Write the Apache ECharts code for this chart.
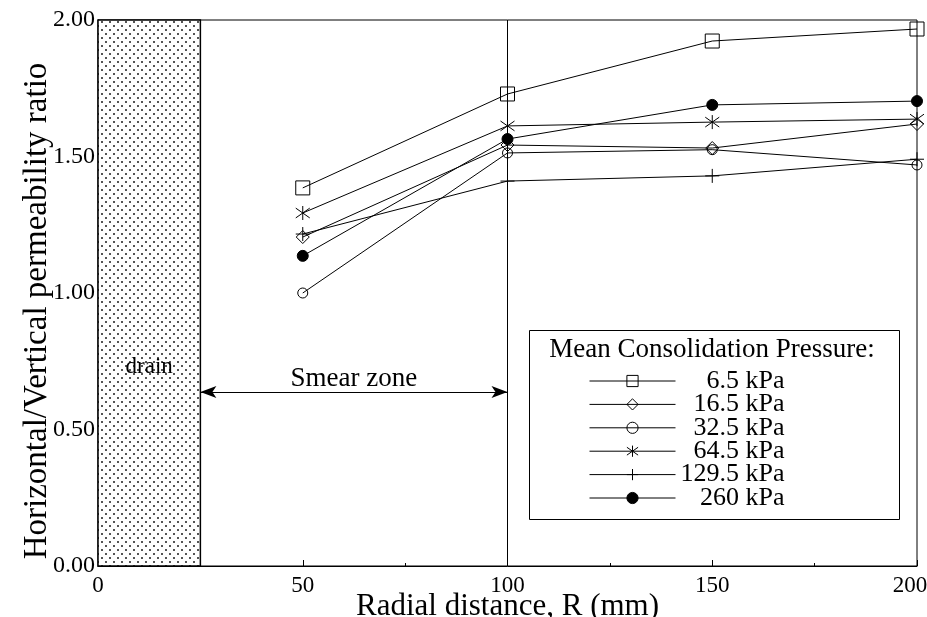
<!DOCTYPE html>
<html>
<head>
<meta charset="utf-8">
<script src="https://cdn.jsdelivr.net/npm/echarts@6/dist/echarts.min.js"></script>
<style>
  html, body { margin: 0; padding: 0; background: #fff; }
  #main { width: 927px; height: 617px; }
</style>
</head>
<body>
<div id="main"></div>
<script>
// radial distance (mm) of the sampling points
var radius = [50, 100, 150, 200];

// kh/kv ratio for each mean consolidation pressure
var kPa6_5 = [1.385, 1.729, 1.923, 1.967];
var kPa16_5 = [1.205, 1.542, 1.531, 1.619];
var kPa32_5 = [1.0, 1.513, 1.525, 1.469];
var kPa64_5 = [1.293, 1.612, 1.626, 1.637];
var kPa129_5 = [1.216, 1.41, 1.429, 1.49];
var kPa260 = [1.136, 1.564, 1.689, 1.703];

var seriesNames = ['6.5 kPa', '16.5 kPa', '32.5 kPa', '64.5 kPa', '129.5 kPa', '260 kPa'];

// drain zone and smear zone limits (mm)
var drainEdge = 25;
var smearEdge = 100;
var smearArrowY = 0.637;
var drainLabelY = 0.73;

var xTicks = [0, 50, 100, 150, 200];
var yTicks = [0, 0.5, 1.0, 1.5, 2.0];

var serif = '"Liberation Serif", "DejaVu Serif", serif';

// dotted fill for the drain
var dots = document.createElement('canvas');
dots.width = 8;
dots.height = 8;
var dctx = dots.getContext('2d');
dctx.fillStyle = '#fff';
dctx.fillRect(0, 0, 8, 8);
dctx.fillStyle = '#555';
dctx.fillRect(1, 1, 2, 2);
dctx.fillRect(5, 5, 2, 2);

function pairs(ys) {
  return radius.map(function (r, i) { return [r, ys[i]]; });
}

var hollow = { color: 'rgba(0,0,0,0)', borderColor: '#000', borderWidth: 1 };
var filled = { color: '#000', borderColor: '#000', borderWidth: 1 };

var starPath = 'path://M5,0L5,10M1.5,1.5L8.5,8.5M8.5,1.5L1.5,8.5';
var plusPath = 'path://M0,5L10,5M5,0L5,10';

function mkSeries(name, ys, symbol, size, style) {
  return {
    name: name,
    type: 'line',
    data: pairs(ys),
    symbol: symbol,
    symbolSize: size,
    showAllSymbol: true,
    color: '#000',
    lineStyle: { color: '#000', width: 1 },
    itemStyle: style,
    emphasis: { disabled: true },
    z: 3
  };
}

var myChart = echarts.init(document.getElementById('main'));

var series = [
  mkSeries(seriesNames[0], kPa6_5, 'rect', 14, hollow),
  mkSeries(seriesNames[1], kPa16_5, 'diamond', 13, hollow),
  mkSeries(seriesNames[2], kPa32_5, 'circle', 10, hollow),
  mkSeries(seriesNames[3], kPa64_5, starPath, 14, hollow),
  mkSeries(seriesNames[4], kPa129_5, plusPath, 14, hollow),
  mkSeries(seriesNames[5], kPa260, 'circle', 11, filled)
];

// drain, smear zone arrow and the r = 100 line
series.push({
  name: 'zones',
  type: 'line',
  data: [],
  silent: true,
  markArea: {
    silent: true,
    itemStyle: {
      color: { image: dots, repeat: 'repeat' },
      borderColor: '#000',
      borderWidth: 1.5
    },
    label: { show: false },
    data: [[{ xAxis: 0, yAxis: 0 }, { xAxis: drainEdge, yAxis: 2 }]]
  },
  markPoint: {
    silent: true,
    symbol: 'circle',
    symbolSize: 0,
    label: {
      show: true,
      formatter: 'drain',
      fontFamily: serif,
      fontSize: 23,
      color: '#000'
    },
    data: [{ coord: [drainEdge / 2, drainLabelY] }]
  },
  markLine: {
    silent: true,
    animation: false,
    data: [
      [
        { coord: [drainEdge, smearArrowY], symbol: 'arrow', symbolSize: [9, 16] },
        { coord: [smearEdge, smearArrowY], symbol: 'arrow', symbolSize: [9, 16] }
      ],
      [
        { coord: [smearEdge, 0], symbol: 'none' },
        { coord: [smearEdge, 2], symbol: 'none' }
      ]
    ],
    lineStyle: { color: '#000', width: 1, type: 'solid' },
    label: {
      show: true,
      position: 'middle',
      fontFamily: serif,
      fontSize: 27,
      color: '#000',
      distance: 0,
      formatter: function (p) {
        return p.dataIndex === 0 ? 'Smear zone' : '';
      }
    }
  }
});

var option = {
  animation: false,
  backgroundColor: '#fff',
  grid: {
    left: 98,
    right: 10,
    top: 20,
    bottom: 51,
    outerBoundsMode: 'none',
    containLabel: false,
    show: true,
    borderColor: '#000',
    borderWidth: 1,
    backgroundColor: 'transparent'
  },
  legend: {
    orient: 'vertical',
    left: 584,
    top: 363,
    itemWidth: 86,
    itemHeight: 14,
    itemGap: -2.6,
    data: seriesNames,
    selectedMode: false,
    itemStyle: { borderWidth: 1 },
    lineStyle: { width: 1 },
    formatter: function (name) {
      return '{t|' + name + '}';
    },
    textStyle: {
      fontFamily: serif,
      fontSize: 26,
      color: '#000',
      rich: {
        t: { width: 104, align: 'right', fontFamily: serif, fontSize: 26, color: '#000' }
      }
    }
  },
  graphic: [
    {
      type: 'rect',
      left: 527,
      top: 328,
      shape: { width: 370, height: 189 },
      style: { fill: 'none', stroke: '#000', lineWidth: 1 },
      z: 2
    },
    {
      type: 'text',
      x: 712,
      y: 350,
      style: {
        text: 'Mean Consolidation Pressure:',
        font: '27px ' + serif,
        fill: '#000',
        align: 'center',
        verticalAlign: 'middle'
      },
      z: 2
    }
  ],
  xAxis: {
    type: 'value',
    min: xTicks[0],
    max: xTicks[xTicks.length - 1],
    interval: 50,
    name: 'Radial distance, R (mm)',
    nameLocation: 'middle',
    nameGap: 25,
    nameMoveOverlap: false,
    nameTextStyle: { fontFamily: serif, fontSize: 31, color: '#000' },
    axisLine: { onZero: false, lineStyle: { color: '#000', width: 1 } },
    axisTick: { inside: true, length: 6, lineStyle: { color: '#000' } },
    minorTick: { show: true, splitNumber: 2, length: 3, lineStyle: { color: '#000' } },
    splitLine: { show: false },
    axisLabel: {
      margin: 8,
      fontFamily: serif,
      fontSize: 23,
      color: '#000',
      formatter: function (v) {
        return v === xTicks[xTicks.length - 1] ? '{r|' + v + '}' : String(v);
      },
      rich: {
        r: { fontFamily: serif, fontSize: 23, color: '#000', padding: [0, 14, 0, 0] }
      }
    }
  },
  yAxis: {
    type: 'value',
    min: yTicks[0],
    max: yTicks[yTicks.length - 1],
    interval: 0.5,
    name: 'Horizontal/Vertical permeability ratio',
    nameLocation: 'middle',
    nameGap: 44,
    nameMoveOverlap: false,
    nameTextStyle: { fontFamily: serif, fontSize: 33, color: '#000', padding: [0, 36, 0, 0] },
    axisLine: { show: true, lineStyle: { color: '#000', width: 1 } },
    axisTick: { inside: true, length: 6, lineStyle: { color: '#000' } },
    minorTick: { show: true, splitNumber: 2, length: 6, lineStyle: { color: '#000' } },
    splitLine: { show: false },
    axisLabel: {
      margin: 3,
      fontFamily: serif,
      fontSize: 24,
      color: '#000',
      formatter: function (v) { return v.toFixed(2); }
    }
  },
  series: series
};

myChart.setOption(option);
</script>
</body>
</html>
